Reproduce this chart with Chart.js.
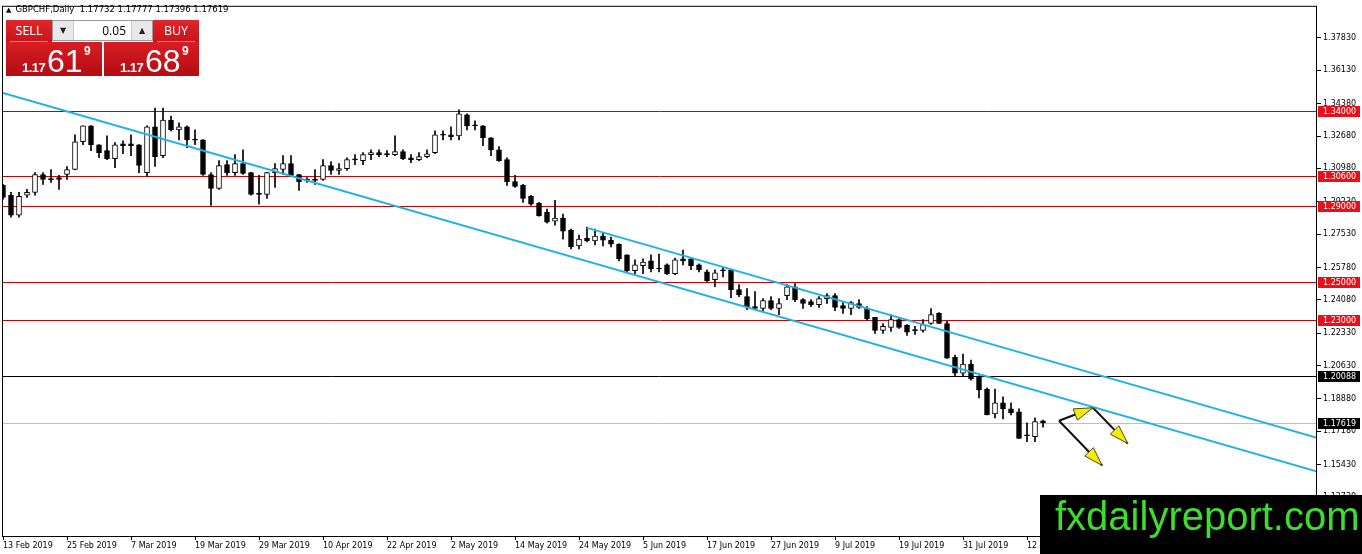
<!DOCTYPE html>
<html>
<head>
<meta charset="utf-8">
<title>GBPCHF Daily</title>
<script src="https://cdn.jsdelivr.net/npm/chart.js@4.4.1/dist/chart.umd.min.js"></script>
<style>
  html, body { margin: 0; padding: 0; background: #fff; }
  #wrap { position: relative; width: 1362px; height: 554px; overflow: hidden; }
  #chart { position: absolute; left: 0; top: 0; }
  #title { position: absolute; left: 6px; top: 4px; font: 8.5px "DejaVu Sans", sans-serif; color: #000; white-space: pre; }
  #title .tri { font-size: 7px; margin-right: 4px; }
  .btn { position: absolute; top: 20px; width: 46px; height: 22px; background: linear-gradient(#e0262c, #c8141a);
         color: #fff; font: 12.5px "Open Sans", sans-serif; text-align: center; line-height: 21px; }
  .btn::after { content: ""; position: absolute; left: 4px; right: 4px; bottom: 0; height: 1px; background: rgba(255,255,255,0.45); }
  #sellBtn { left: 6px; }
  #buyBtn { left: 153px; }
  #lot { position: absolute; left: 52px; top: 20px; width: 99px; height: 19px; border: 1px solid #9a9a9a; background: #fff; }
  #lot .arr { position: absolute; top: 0; width: 20px; height: 19px; background: #e8e8e8; font: 8px "DejaVu Sans", sans-serif;
              text-align: center; line-height: 19px; color: #222; }
  #lot .l { left: 0; border-right: 1px solid #c8c8c8; }
  #lot .r { right: 0; border-left: 1px solid #c8c8c8; }
  #lot .v { position: absolute; right: 26px; top: 0; font: 12px "Open Sans", sans-serif; line-height: 19px; color: #000; }
  .quote { position: absolute; top: 42px; height: 34px; background: linear-gradient(#d81e24, #b20c12); color: #fff; }
  #sellQ { left: 6px; width: 96px; }
  #buyQ { left: 104px; width: 95px; }
  .quote span { position: absolute; font-family: "Liberation Sans", Arial, sans-serif; }
  .quote .sm { left: 16px; top: 19px; font-size: 13px; line-height: 13px; font-weight: bold; letter-spacing: -0.5px; }
  .quote .big { left: 41px; top: 3px; font-size: 32px; line-height: 32px; }
  .quote .sup { left: 78px; top: 3px; font-size: 12px; line-height: 12px; font-weight: bold; }
  #logo { position: absolute; left: 1040px; top: 495px; width: 322px; height: 59px; background: #000; }
  #logo span { position: absolute; left: 15px; top: 1px; font: 40px "Liberation Sans", Arial, sans-serif; line-height: 40px; color: #3ddc2f; white-space: nowrap; }
</style>
</head>
<body>
<div id="wrap">
  <canvas id="chart" width="1362" height="554"></canvas>
  <div id="title"><span class="tri">▲</span>GBPCHF,Daily  1.17732 1.17777 1.17396 1.17619</div>
  <div class="btn" id="sellBtn">SELL</div>
  <div id="lot"><span class="arr l">▼</span><span class="v">0.05</span><span class="arr r">▲</span></div>
  <div class="btn" id="buyBtn">BUY</div>
  <div class="quote" id="sellQ"><span class="sm">1.17</span><span class="big">61</span><span class="sup">9</span></div>
  <div class="quote" id="buyQ"><span class="sm">1.17</span><span class="big">68</span><span class="sup">9</span></div>
  <div id="logo"><span>fxdailyreport.com</span></div>
</div>
<script>
// 1. DATA (harian GBPCHF, 13 Feb 2019 - 14 Aug 2019, index = bar ke-n)
const xTickBars = [0, 8, 16, 24, 32, 40, 48, 56, 64, 72, 80, 88, 96, 104, 112, 120, 128];
const xTickLabels = ["13 Feb 2019", "25 Feb 2019", "7 Mar 2019", "19 Mar 2019", "29 Mar 2019", "10 Apr 2019",
  "22 Apr 2019", "2 May 2019", "14 May 2019", "24 May 2019", "5 Jun 2019", "17 Jun 2019", "27 Jun 2019",
  "9 Jul 2019", "19 Jul 2019", "31 Jul 2019", "12 Aug 2019"];
const yTicks = [1.37830, 1.36130, 1.34380, 1.32680, 1.30980, 1.29230, 1.27530, 1.25780,
  1.24080, 1.22330, 1.20630, 1.18880, 1.17180, 1.15430, 1.13730];

const open = [1.3009, 1.2957, 1.2852, 1.2957, 1.2972, 1.3066, 1.3040, 1.3050, 1.3066, 1.3092,
  1.3238, 1.3321, 1.3222, 1.3191, 1.3149, 1.3227, 1.3227, 1.3222, 1.3076, 1.3316,
  1.3165, 1.3352, 1.3300, 1.3316, 1.3248, 1.3248, 1.3066, 1.2993, 1.3118, 1.3076,
  1.3123, 1.3076, 1.2967, 1.2962, 1.3076, 1.3092, 1.3123, 1.3066, 1.3040, 1.3040,
  1.3040, 1.3113, 1.3087, 1.3097, 1.3144, 1.3139, 1.3170, 1.3181, 1.3175, 1.3170,
  1.3186, 1.3154, 1.3144, 1.3160, 1.3181, 1.3274, 1.3274, 1.3269, 1.3379, 1.3326,
  1.3321, 1.3259, 1.3196, 1.3144, 1.3029, 1.3009, 1.2951, 1.2915, 1.2868, 1.2821,
  1.2837, 1.2774, 1.2691, 1.2732, 1.2717, 1.2743, 1.2722, 1.2701, 1.2644, 1.2561,
  1.2587, 1.2613, 1.2571, 1.2592, 1.2545, 1.2623, 1.2623, 1.2592, 1.2555, 1.2514,
  1.2561, 1.2566, 1.2462, 1.2425, 1.2373, 1.2363, 1.2404, 1.2363, 1.2430, 1.2477,
  1.2409, 1.2399, 1.2383, 1.2415, 1.2430, 1.2378, 1.2363, 1.2389, 1.2363, 1.2316,
  1.2248, 1.2264, 1.2305, 1.2274, 1.2248, 1.2248, 1.2284, 1.2337, 1.2284, 1.2107,
  1.2024, 1.2071, 1.2008, 1.1940, 1.1810, 1.1868, 1.1836, 1.1821, 1.1696, 1.1690,
  1.17732];
const high = [1.3014, 1.2972, 1.2972, 1.2988, 1.3076, 1.3076, 1.3092, 1.3061, 1.3108, 1.3274,
  1.3321, 1.3323, 1.3223, 1.3269, 1.3233, 1.3243, 1.3274, 1.3223, 1.3321, 1.3415,
  1.3415, 1.3373, 1.3337, 1.3321, 1.3300, 1.3249, 1.3076, 1.3139, 1.3139, 1.3170,
  1.3196, 1.3077, 1.3061, 1.3078, 1.3123, 1.3165, 1.3165, 1.3067, 1.3050, 1.3092,
  1.3144, 1.3134, 1.3123, 1.3154, 1.3170, 1.3181, 1.3196, 1.3196, 1.3191, 1.3269,
  1.3196, 1.3170, 1.3181, 1.3196, 1.3295, 1.3295, 1.3316, 1.3405, 1.3384, 1.3347,
  1.3323, 1.3260, 1.3212, 1.3154, 1.3061, 1.3014, 1.2957, 1.2920, 1.2884, 1.2930,
  1.2858, 1.2779, 1.2748, 1.2790, 1.2779, 1.2759, 1.2738, 1.2702, 1.2645, 1.2618,
  1.2623, 1.2645, 1.2649, 1.2597, 1.2628, 1.2670, 1.2628, 1.2597, 1.2566, 1.2566,
  1.2581, 1.2567, 1.2488, 1.2467, 1.2451, 1.2415, 1.2425, 1.2415, 1.2488, 1.2493,
  1.2415, 1.2409, 1.2425, 1.2441, 1.2441, 1.2394, 1.2399, 1.2409, 1.2373, 1.2317,
  1.2284, 1.2331, 1.2310, 1.2279, 1.2269, 1.2305, 1.2363, 1.2342, 1.2295, 1.2118,
  1.2123, 1.2092, 1.2009, 1.1946, 1.1940, 1.1899, 1.1868, 1.1836, 1.1763, 1.1789,
  1.17777];
const low = [1.2936, 1.2842, 1.2842, 1.2946, 1.2957, 1.3014, 1.3024, 1.2988, 1.3040, 1.3090,
  1.3222, 1.3191, 1.3154, 1.3144, 1.3102, 1.3175, 1.3165, 1.3076, 1.3056, 1.3108,
  1.3154, 1.3295, 1.3248, 1.3207, 1.3222, 1.3061, 1.2904, 1.2988, 1.3061, 1.3061,
  1.3066, 1.2957, 1.2910, 1.2941, 1.2998, 1.3066, 1.3056, 1.2983, 1.3024, 1.3014,
  1.3035, 1.3066, 1.3066, 1.3087, 1.3118, 1.3118, 1.3144, 1.3160, 1.3160, 1.3165,
  1.3144, 1.3128, 1.3139, 1.3154, 1.3175, 1.3248, 1.3248, 1.3248, 1.3300, 1.3300,
  1.3217, 1.3165, 1.3134, 1.3009, 1.2998, 1.2920, 1.2904, 1.2847, 1.2811, 1.2800,
  1.2727, 1.2675, 1.2675, 1.2712, 1.2696, 1.2691, 1.2686, 1.2613, 1.2555, 1.2545,
  1.2545, 1.2555, 1.2555, 1.2540, 1.2540, 1.2592, 1.2566, 1.2555, 1.2503, 1.2477,
  1.2529, 1.2420, 1.2425, 1.2357, 1.2357, 1.2347, 1.2357, 1.2331, 1.2409, 1.2399,
  1.2363, 1.2373, 1.2368, 1.2389, 1.2352, 1.2337, 1.2331, 1.2363, 1.2300, 1.2232,
  1.2232, 1.2243, 1.2258, 1.2222, 1.2227, 1.2238, 1.2279, 1.2284, 1.2101, 1.2008,
  1.2008, 1.1987, 1.1894, 1.1805, 1.1789, 1.1784, 1.1805, 1.1680, 1.1664, 1.1664,
  1.17396];
const close = [1.2946, 1.2852, 1.2951, 1.2972, 1.3066, 1.3040, 1.3039, 1.3040, 1.3092, 1.3238,
  1.3321, 1.3222, 1.3181, 1.3149, 1.3222, 1.3217, 1.3217, 1.3113, 1.3316, 1.3160,
  1.3352, 1.3300, 1.3316, 1.3248, 1.3246, 1.3066, 1.2993, 1.3113, 1.3076, 1.3123,
  1.3071, 1.2962, 1.2962, 1.3076, 1.3097, 1.3123, 1.3061, 1.3029, 1.3035, 1.3035,
  1.3113, 1.3087, 1.3097, 1.3144, 1.3143, 1.3170, 1.3181, 1.3170, 1.3170, 1.3186,
  1.3149, 1.3144, 1.3160, 1.3175, 1.3274, 1.3273, 1.3264, 1.3384, 1.3321, 1.3321,
  1.3259, 1.3196, 1.3139, 1.3029, 1.3003, 1.2941, 1.2910, 1.2848, 1.2816, 1.2837,
  1.2769, 1.2686, 1.2727, 1.2717, 1.2743, 1.2722, 1.2701, 1.2623, 1.2561, 1.2592,
  1.2607, 1.2571, 1.2570, 1.2545, 1.2618, 1.2613, 1.2587, 1.2566, 1.2508, 1.2550,
  1.2560, 1.2462, 1.2436, 1.2373, 1.2363, 1.2404, 1.2363, 1.2389, 1.2477, 1.2409,
  1.2389, 1.2383, 1.2415, 1.2430, 1.2368, 1.2363, 1.2394, 1.2368, 1.2310, 1.2248,
  1.2269, 1.2305, 1.2264, 1.2238, 1.2247, 1.2279, 1.2331, 1.2285, 1.2102, 1.2024,
  1.2071, 1.1993, 1.1935, 1.1806, 1.1868, 1.1836, 1.1815, 1.1681, 1.1695, 1.1769,
  1.17619];

// garis level horizontal
const redLevels = [1.34000, 1.30600, 1.29000, 1.25000, 1.23000];
const blackLevel = 1.20088;
const bidLevel = 1.17619;

// garis tren (bar index, harga)
const channelLower = [{ x: 0, y: 1.3494 }, { x: 164.2, y: 1.1508 }];
const channelUpper = [{ x: 73, y: 1.2786 }, { x: 164.2, y: 1.1685 }];
const arrowPaths = [
  [{ x: 132, y: 1.1774 }, { x: 136.25, y: 1.1842 }],
  [{ x: 136.25, y: 1.1842 }, { x: 140.6, y: 1.1654 }],
  [{ x: 132, y: 1.1774 }, { x: 137.4, y: 1.1539 }],
];

// 2. DATASET CANDLE
const wicks = open.map((o, i) => ({ x: i, y: [low[i], high[i]] }));
const bodies = open.map((o, i) => ({ x: i, y: [o, close[i]] }));
const bodyColors = open.map((o, i) => (close[i] >= o ? "#ffffff" : "#000000"));

const trendStyle = { type: "line", borderColor: "#1fb2e6", borderWidth: 2, pointRadius: 0, fill: false, order: 0 };
const arrowSets = arrowPaths.map((p) => ({
  type: "line", data: p, borderColor: "#111111", borderWidth: 2, pointRadius: 0, fill: false, order: 0, arrow: true,
}));

// 3. PLUGIN: level, kotak label sumbu, bingkai, kepala panah
function levelLabel(ctx, area, y, value, bg) {
  const py = Math.round(y.getPixelForValue(value));
  ctx.fillStyle = bg;
  ctx.fillRect(area.right + 2, py - 5, 42, 11);
  ctx.fillStyle = "#ffffff";
  ctx.font = '8px "DejaVu Sans"';
  ctx.textBaseline = "middle";
  ctx.textAlign = "left";
  ctx.fillText(value.toFixed(5), area.right + 7, py + 0.5);
}

const mtPlugin = {
  id: "mtPlugin",
  beforeDatasetsDraw(chart) {
    const { ctx, chartArea: a, scales: { y } } = chart;
    const hline = (v, color) => {
      const py = Math.round(y.getPixelForValue(v)) + 0.5;
      ctx.strokeStyle = color;
      ctx.beginPath();
      ctx.moveTo(a.left, py);
      ctx.lineTo(a.right, py);
      ctx.stroke();
    };
    ctx.save();
    ctx.lineWidth = 1;
    hline(bidLevel, "#c0c0c0");
    hline(blackLevel, "#000000");
    redLevels.forEach((v) => hline(v, "#cc0000"));
    ctx.restore();
  },
  afterDatasetsDraw(chart) {
    const { ctx } = chart;
    ctx.save();
    chart.data.datasets.forEach((ds, i) => {
      if (!ds.arrow) return;
      const pts = chart.getDatasetMeta(i).data;
      const p0 = pts[pts.length - 2], p1 = pts[pts.length - 1];
      const ang = Math.atan2(p1.y - p0.y, p1.x - p0.x);
      const len = 19, half = 6;
      const bx = p1.x - Math.cos(ang) * len, by = p1.y - Math.sin(ang) * len;
      ctx.beginPath();
      ctx.moveTo(p1.x, p1.y);
      ctx.lineTo(bx + Math.sin(ang) * half, by - Math.cos(ang) * half);
      ctx.lineTo(bx - Math.sin(ang) * half, by + Math.cos(ang) * half);
      ctx.closePath();
      ctx.fillStyle = "#f7ec00";
      ctx.fill();
      ctx.strokeStyle = "#4a4a20";
      ctx.lineWidth = 1;
      ctx.stroke();
    });
    ctx.restore();
  },
  afterDraw(chart) {
    const { ctx, chartArea: a, scales: { y } } = chart;
    ctx.save();
    ctx.strokeStyle = "#000000";
    ctx.lineWidth = 1;
    ctx.strokeRect(a.left - 0.5, a.top - 0.5, a.right - a.left + 1, a.bottom - a.top + 1);
    redLevels.forEach((v) => levelLabel(ctx, a, y, v, "#e8101a"));
    levelLabel(ctx, a, y, blackLevel, "#000000");
    levelLabel(ctx, a, y, bidLevel, "#000000");
    ctx.restore();
  },
};

// 4. CHART
Chart.defaults.font.family = "DejaVu Sans";
Chart.defaults.font.size = 8;
Chart.defaults.color = "#000000";

new Chart(document.getElementById("chart"), {
  type: "bar",
  data: {
    datasets: [
      { label: "wick", data: wicks, backgroundColor: "#000000", barThickness: 1, grouped: false, order: 3, borderWidth: 0 },
      {
        label: "body", data: bodies, backgroundColor: bodyColors, borderColor: "#000000", borderWidth: 1,
        borderSkipped: false, barThickness: 5, minBarLength: 1, grouped: false, order: 2,
      },
      { ...trendStyle, data: channelLower },
      { ...trendStyle, data: channelUpper },
      ...arrowSets,
    ],
  },
  options: {
    responsive: false,
    animation: false,
    devicePixelRatio: 1,
    layout: { padding: { left: 3, top: 3, right: 0, bottom: 0 } },
    plugins: { legend: { display: false }, tooltip: { enabled: false } },
    scales: {
      x: {
        type: "linear", min: 0, max: 164.125, offset: false,
        grid: { display: true, drawOnChartArea: false, offset: false, tickLength: 4, color: "#000000" },
        border: { display: true, color: "#000000" },
        afterBuildTicks: (s) => { s.ticks = xTickBars.map((v) => ({ value: v })); },
        afterFit: (s) => { s.height = 18; },
        ticks: {
          autoSkip: false, maxRotation: 0, minRotation: 0, align: "start", padding: 1,
          callback: (v, i) => xTickLabels[i],
        },
      },
      y: {
        position: "right", min: 1.1169, max: 1.3946, beginAtZero: false,
        grid: { display: true, drawOnChartArea: false, tickLength: 5, color: "#000000" },
        border: { display: true, color: "#000000" },
        afterBuildTicks: (s) => { s.ticks = yTicks.map((v) => ({ value: v })); },
        afterFit: (s) => { s.width = 46; },
        ticks: { padding: 2, callback: (v) => Number(v).toFixed(5) },
      },
    },
  },
  plugins: [mtPlugin],
});
</script>
</body>
</html>
